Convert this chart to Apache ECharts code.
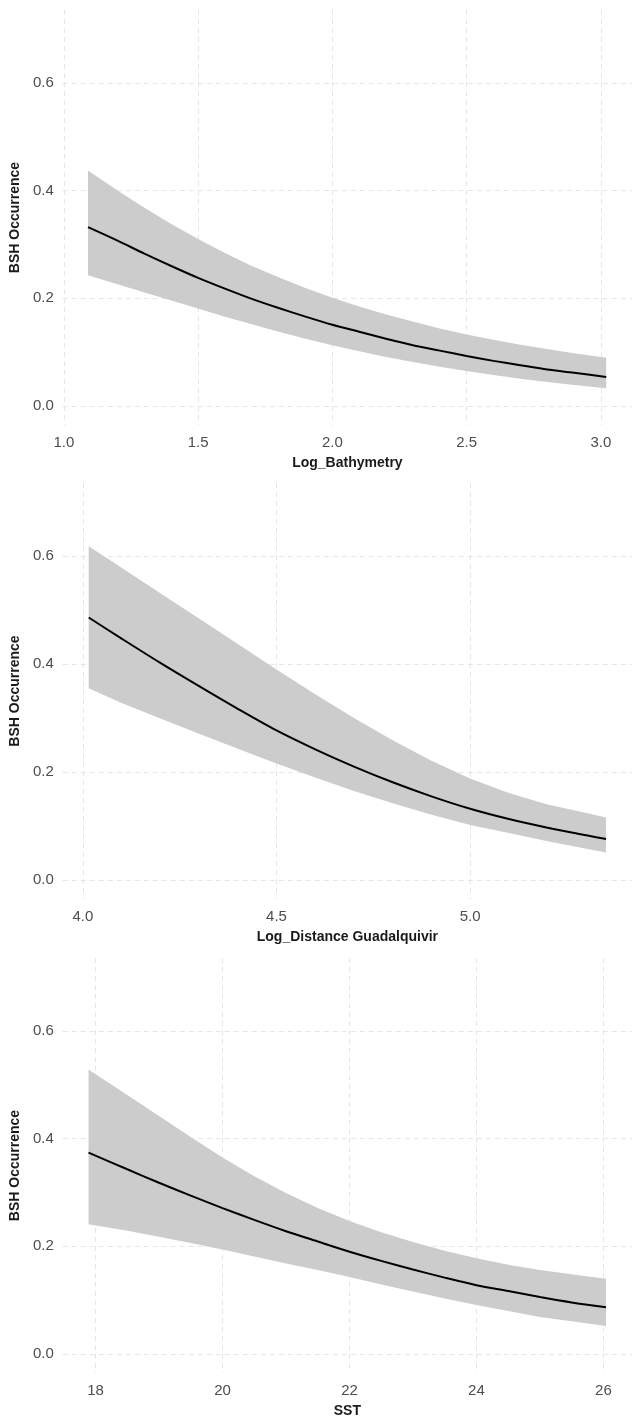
<!DOCTYPE html>
<html>
<head>
<meta charset="utf-8">
<title>BSH Occurrence partial effects</title>
<script src="https://cdn.jsdelivr.net/npm/echarts@6/dist/echarts.min.js"></script>
<style>
  html, body { margin: 0; padding: 0; background: #fff; }
  #chart { width: 632px; height: 1420px; }
</style>
</head>
<body>
<div id="chart"></div>
<script>
// Panel 1: Log_Bathymetry
const bathX     = [1.09, 1.2, 1.3, 1.4, 1.5, 1.6, 1.7, 1.8, 1.9, 2.0, 2.1, 2.2, 2.3, 2.4, 2.5, 2.6, 2.7, 2.8, 2.9, 3.02];
const bathFit   = [0.332, 0.307, 0.283, 0.260, 0.238, 0.218, 0.199, 0.182, 0.166, 0.151, 0.138, 0.125, 0.113, 0.103, 0.093, 0.084, 0.076, 0.068, 0.062, 0.054];
const bathUpper = [0.437, 0.400, 0.368, 0.338, 0.310, 0.284, 0.260, 0.239, 0.219, 0.201, 0.185, 0.170, 0.157, 0.144, 0.133, 0.123, 0.114, 0.106, 0.098, 0.090];
const bathLower = [0.243, 0.226, 0.211, 0.196, 0.181, 0.166, 0.152, 0.138, 0.125, 0.113, 0.102, 0.091, 0.082, 0.073, 0.065, 0.058, 0.051, 0.045, 0.039, 0.033];

// Panel 2: Log_Distance Guadalquivir
const distX     = [4.015, 4.1, 4.2, 4.3, 4.4, 4.5, 4.6, 4.7, 4.8, 4.9, 5.0, 5.1, 5.2, 5.3, 5.351];
const distFit   = [0.486, 0.447, 0.402, 0.359, 0.317, 0.277, 0.242, 0.210, 0.181, 0.155, 0.132, 0.113, 0.097, 0.083, 0.076];
const distUpper = [0.618, 0.578, 0.531, 0.484, 0.437, 0.390, 0.344, 0.300, 0.259, 0.221, 0.188, 0.161, 0.140, 0.124, 0.116];
const distLower = [0.355, 0.328, 0.299, 0.271, 0.243, 0.216, 0.190, 0.165, 0.142, 0.121, 0.102, 0.087, 0.072, 0.058, 0.051];

// Panel 3: SST
const sstX     = [17.89, 18.5, 19.0, 19.5, 20.0, 20.5, 21.0, 21.5, 22.0, 22.5, 23.0, 23.5, 24.0, 24.5, 25.0, 25.5, 26.04];
const sstFit   = [0.374, 0.343, 0.318, 0.294, 0.271, 0.249, 0.228, 0.209, 0.190, 0.173, 0.157, 0.142, 0.128, 0.117, 0.106, 0.096, 0.087];
const sstUpper = [0.528, 0.481, 0.442, 0.403, 0.365, 0.330, 0.299, 0.271, 0.247, 0.226, 0.208, 0.192, 0.178, 0.166, 0.156, 0.148, 0.140];
const sstLower = [0.241, 0.229, 0.218, 0.206, 0.194, 0.181, 0.168, 0.156, 0.143, 0.129, 0.116, 0.103, 0.091, 0.080, 0.069, 0.061, 0.052];

const yTicks = [0, 0.2, 0.4, 0.6];
const bathTicks = [1.0, 1.5, 2.0, 2.5, 3.0];
const distTicks = [4.0, 4.5, 5.0];
const sstTicks = [18, 20, 22, 24, 26];

const FONT = "'Liberation Sans', Arial, sans-serif";
const gridLine = { show: true, lineStyle: { color: '#e6e6e6', width: 1, type: [5, 4] } };

function xAxisFor(idx, name, min, max, ticks, digits) {
    return {
        type: 'value', gridIndex: idx, min: min, max: max,
        name: name, nameLocation: 'middle', nameGap: 31,
        nameTextStyle: { fontFamily: FONT, fontSize: 14, fontWeight: 'bold', color: '#1a1a1a' },
        axisLine: { show: false },
        axisTick: { show: false, customValues: ticks },
        axisLabel: {
            customValues: ticks, margin: 10,
            fontFamily: FONT, fontSize: 15, color: '#4d4d4d',
            formatter: v => v.toFixed(digits)
        },
        splitLine: gridLine
    };
}

function yAxisFor(idx) {
    return {
        type: 'value', gridIndex: idx, min: -0.035, max: 0.735,
        name: 'BSH Occurrence', nameLocation: 'middle', nameGap: 34,
        nameTextStyle: { fontFamily: FONT, fontSize: 14, fontWeight: 'bold', color: '#1a1a1a' },
        axisLine: { show: false },
        axisTick: { show: false, customValues: yTicks },
        axisLabel: {
            customValues: yTicks, margin: 9,
            fontFamily: FONT, fontSize: 15, color: '#4d4d4d',
            formatter: v => v.toFixed(1)
        },
        splitLine: gridLine
    };
}

// confidence band drawn as one polygon through the axis scales
function bandSeries(idx, xs, lo, hi) {
    return {
        type: 'custom', xAxisIndex: idx, yAxisIndex: idx,
        data: xs.map((x, i) => [x, lo[i], hi[i]]),
        encode: { x: 0, y: [1, 2] },
        silent: true, z: 1,
        renderItem: function (params, api) {
            if (params.dataIndex !== 0) return null;
            const pts = [];
            for (let i = 0; i < xs.length; i++) pts.push(api.coord([xs[i], hi[i]]));
            for (let i = xs.length - 1; i >= 0; i--) pts.push(api.coord([xs[i], lo[i]]));
            return { type: 'polygon', shape: { points: pts }, style: { fill: '#cccccc' } };
        }
    };
}

function fitSeries(idx, xs, ys) {
    return {
        type: 'line', xAxisIndex: idx, yAxisIndex: idx,
        data: xs.map((x, i) => [x, ys[i]]),
        showSymbol: false, smooth: 0.3, z: 3, silent: true,
        lineStyle: { color: '#000000', width: 2 }
    };
}

const chart = echarts.init(document.getElementById('chart'));
chart.setOption({
    animation: false,
    backgroundColor: '#ffffff',
    grid: [
        { left: 62, right: -3, top: 10, height: 415 },
        { left: 62, right: -3, top: 483, height: 416 },
        { left: 62, right: -3, top: 958, height: 415 }
    ],
    xAxis: [
        xAxisFor(0, 'Log_Bathymetry', 0.996, 3.116, bathTicks, 1),
        xAxisFor(1, 'Log_Distance Guadalquivir', 3.948, 5.418, distTicks, 1),
        xAxisFor(2, 'SST', 17.484, 26.45, sstTicks, 0)
    ],
    yAxis: [yAxisFor(0), yAxisFor(1), yAxisFor(2)],
    series: [
        bandSeries(0, bathX, bathLower, bathUpper),
        fitSeries(0, bathX, bathFit),
        bandSeries(1, distX, distLower, distUpper),
        fitSeries(1, distX, distFit),
        bandSeries(2, sstX, sstLower, sstUpper),
        fitSeries(2, sstX, sstFit)
    ]
});
</script>
</body>
</html>
